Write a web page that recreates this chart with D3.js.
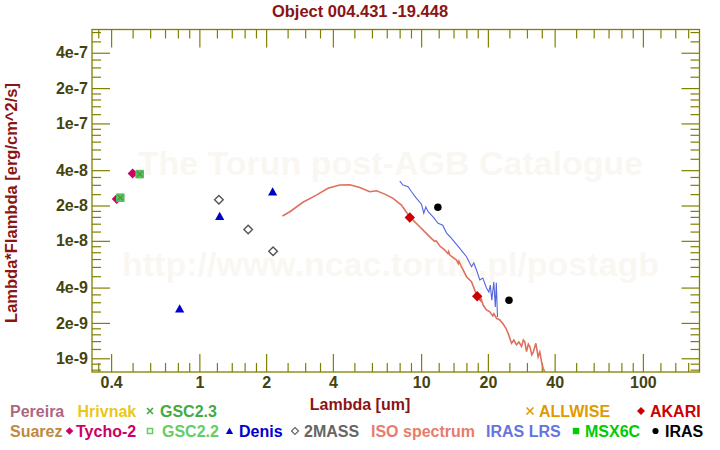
<!DOCTYPE html>
<html><head><meta charset="utf-8">
<script src="https://cdn.jsdelivr.net/npm/d3@7"></script>
<style>
body{margin:0;background:#fff}
svg{display:block}
text{font-family:"Liberation Sans",Arial,sans-serif;font-weight:bold}
</style>
</head><body>
<svg id="c" width="720" height="450"></svg>
<script>
// ---------------- DATA ----------------
const title = "Object 004.431 -19.448";
const xLabel = "Lambda [um]";
const yLabel = "Lambda*Flambda [erg/cm^2/s]";
const watermark1 = "The Torun post-AGB Catalogue";
const watermark2 = "http://www.ncac.torun.pl/postagb";

const xDomain = [0.328, 180];
const yDomain = [7.64e-10, 6.31e-7];

const xMajor = [0.4, 1, 2, 4, 10, 20, 40, 100];
const xMajorLabels = ["0.4", "1", "2", "4", "10", "20", "40", "100"];
const xMinor = [0.35, 0.5, 0.6, 0.7, 0.8, 0.9, 1.2, 1.4, 1.6, 1.8, 2.5, 3, 3.5,
  5, 6, 7, 8, 9, 12, 14, 16, 18, 25, 30, 35, 50, 60, 70, 80, 90, 120, 140, 160];

const yMajor = [1e-9, 2e-9, 4e-9, 1e-8, 2e-8, 4e-8, 1e-7, 2e-7, 4e-7];
const yMajorLabels = ["1e-9", "2e-9", "4e-9", "1e-8", "2e-8", "4e-8", "1e-7", "2e-7", "4e-7"];
const yMinor = [8e-10, 9e-10, 1.2e-9, 1.4e-9, 1.6e-9, 1.8e-9, 2.5e-9, 3e-9, 3.5e-9,
  5e-9, 6e-9, 7e-9, 8e-9, 9e-9, 1.2e-8, 1.4e-8, 1.6e-8, 1.8e-8, 2.5e-8, 3e-8, 3.5e-8,
  5e-8, 6e-8, 7e-8, 8e-8, 9e-8, 1.2e-7, 1.4e-7, 1.6e-7, 1.8e-7, 2.5e-7, 3e-7, 3.5e-7, 5e-7, 6e-7];

// photometry [lambda um, lambda*F_lambda]
const tycho2 = [[0.424, 2.27e-8], [0.50, 3.75e-8]];
const gsc22  = [[0.44, 2.33e-8], [0.538, 3.70e-8]];
const gsc23  = [[0.44, 2.33e-8], [0.538, 3.70e-8]];
const denis  = [[0.815, 2.64e-9], [1.235, 1.62e-8], [2.14, 2.62e-8]];
const twomass = [[1.225, 2.24e-8], [1.66, 1.25e-8], [2.15, 8.15e-9]];
const akari  = [[8.89, 1.58e-8], [17.9, 3.37e-9]];
const iras   = [[11.9, 1.93e-8], [24.9, 3.12e-9]];

// ISO spectrum
const isoSpec = [
 [2.37,1.63e-8],[2.56,1.77e-8],[2.93,2.13e-8],[3.37,2.45e-8],[3.80,2.80e-8],[4.30,2.99e-8],
 [4.77,3.00e-8],[5.29,2.85e-8],[5.87,2.62e-8],[6.29,2.67e-8],[6.86,2.50e-8],[7.47,2.30e-8],
 [8.15,2.02e-8],[8.89,1.60e-8],[9.86,1.32e-8],[10.94,1.08e-8],[11.5,9.9e-9],[11.7,1.0e-8],[12.14,9.03e-9],[12.79,8.35e-9],
 [13.2,7.8e-9],[13.3,8.1e-9],[13.47,7.57e-9],[14.44,6.86e-9],[14.7,6.4e-9],[14.8,6.7e-9],[15.21,6.02e-9],[16.02,4.95e-9],[16.87,4.49e-9],[17.88,3.39e-9],
 [18.5,3.1e-9],[18.6,3.25e-9],[19.03,2.84e-9],[19.71,2.58e-9],[20.40,2.49e-9],[21.05,2.29e-9],[21.3,2.4e-9],[21.88,2.19e-9],[22.63,2.12e-9],
 [23.43,1.96e-9],[24.10,1.81e-9],[24.68,1.63e-9],[25.56,1.34e-9],[26.18,1.43e-9],[26.93,1.30e-9],
 [27.58,1.38e-9],[28.37,1.26e-9],[28.90,1.43e-9],[29.35,1.38e-9],[29.87,1.14e-9],[30.44,1.32e-9],
 [30.92,1.26e-9],[31.56,1.07e-9],[32.0,1.12e-9],[32.91,1.34e-9],[33.70,1.03e-9],[34.30,1.13e-9],
 [34.91,9.36e-10],[35.50,8.22e-10],[36.14,7.64e-10]
];
// IRAS LRS spectrum
const irasLrs = [
 [8.01,3.23e-8],[8.29,2.99e-8],[8.73,2.89e-8],[9.05,2.62e-8],[9.53,2.30e-8],[10.04,2.05e-8],
 [10.28,1.72e-8],[10.50,1.94e-8],[10.75,1.77e-8],[11.32,1.60e-8],[11.93,1.41e-8],[12.52,1.36e-8],
 [13.01,1.17e-8],[13.71,1.05e-8],[14.94,8.63e-9],[16.02,7.32e-9],[16.87,6.02e-9],[17.28,6.47e-9],
 [17.77,5.64e-9],[18.39,4.64e-9],[18.97,4.82e-9],[19.71,3.97e-9],[20.2,3.67e-9],[20.51,4.20e-9],
 [20.83,3.13e-9],[21.27,4.46e-9],[21.61,2.73e-9],[21.83,4.40e-9],[22.1,2.25e-9]
];

const legendRow1 = ["Pereira", "Hrivnak", "GSC2.3", "ALLWISE", "AKARI"];
const legendRow2 = ["Suarez", "Tycho-2", "GSC2.2", "Denis", "2MASS", "ISO spectrum", "IRAS LRS", "MSX6C", "IRAS"];

// ---------------- DRAW ----------------
const W = 720, H = 450;
const L = 92, R = 699.5, T = 29.5, B = 372;
const svg = d3.select("#c");
const OLIVE = "#808000", TICKTXT = "#44440f", DARKRED = "#8b1414";

const x = d3.scaleLog().domain(xDomain).range([L, R]);
const y = d3.scaleLog().domain(yDomain).range([B, T]);

svg.append("rect").attr("width", W).attr("height", H).attr("fill", "#fff");

// watermark
svg.append("text").attr("x", 390.5).attr("y", 175).attr("text-anchor", "middle")
  .attr("font-size", 34).attr("fill", "#faf7f3").text(watermark1);
svg.append("text").attr("x", 390.5).attr("y", 276).attr("text-anchor", "middle")
  .attr("font-size", 34).attr("fill", "#faf7f3").text(watermark2);

// title
svg.append("text").attr("x", 360).attr("y", 17).attr("text-anchor", "middle")
  .attr("font-size", 16.5).attr("fill", DARKRED).text(title);

// axes
function styleAxis(g) {
  g.select(".domain").remove();
  g.selectAll(".tick line").attr("stroke", OLIVE).attr("stroke-width", 1.2);
  g.selectAll(".tick text").attr("fill", TICKTXT).attr("font-size", 16)
    .attr("font-family", "Liberation Sans, Arial, sans-serif").attr("font-weight", "bold");
}
svg.append("g").attr("transform", `translate(0,${B})`)
  .call(d3.axisBottom(x).tickValues(xMajor).tickFormat((d, i) => xMajorLabels[i])
    .tickSizeInner(-18).tickSizeOuter(0).tickPadding(5)).call(styleAxis);
svg.append("g").attr("transform", `translate(0,${B})`)
  .call(d3.axisBottom(x).tickValues(xMinor).tickFormat("").tickSizeInner(-9).tickSizeOuter(0)).call(styleAxis);
svg.append("g").attr("transform", `translate(0,${T})`)
  .call(d3.axisTop(x).tickValues(xMajor).tickFormat("").tickSizeInner(-18).tickSizeOuter(0)).call(styleAxis);
svg.append("g").attr("transform", `translate(0,${T})`)
  .call(d3.axisTop(x).tickValues(xMinor).tickFormat("").tickSizeInner(-9).tickSizeOuter(0)).call(styleAxis);
svg.append("g").attr("transform", `translate(${L},0)`)
  .call(d3.axisLeft(y).tickValues(yMajor).tickFormat((d, i) => yMajorLabels[i])
    .tickSizeInner(-18).tickSizeOuter(0).tickPadding(4)).call(styleAxis);
svg.append("g").attr("transform", `translate(${L},0)`)
  .call(d3.axisLeft(y).tickValues(yMinor).tickFormat("").tickSizeInner(-9).tickSizeOuter(0)).call(styleAxis);
svg.append("g").attr("transform", `translate(${R},0)`)
  .call(d3.axisRight(y).tickValues(yMajor).tickFormat("").tickSizeInner(-18).tickSizeOuter(0)).call(styleAxis);
svg.append("g").attr("transform", `translate(${R},0)`)
  .call(d3.axisRight(y).tickValues(yMinor).tickFormat("").tickSizeInner(-9).tickSizeOuter(0)).call(styleAxis);

svg.append("rect").attr("x", L).attr("y", T).attr("width", R - L).attr("height", B - T)
  .attr("fill", "none").attr("stroke", OLIVE).attr("stroke-width", 1.3);

// axis labels
svg.append("text").attr("transform", `translate(16.5,203) rotate(-90)`).attr("text-anchor", "middle")
  .attr("font-size", 16.5).attr("fill", DARKRED).text(yLabel);
svg.append("text").attr("x", 360).attr("y", 410).attr("text-anchor", "middle")
  .attr("font-size", 16).attr("fill", DARKRED).text(xLabel);

// clip
svg.append("clipPath").attr("id", "plotclip").append("rect")
  .attr("x", L).attr("y", T).attr("width", R - L).attr("height", B - T);
const plot = svg.append("g").attr("clip-path", "url(#plotclip)");

const line = d3.line().x(d => x(d[0])).y(d => y(d[1]));
plot.append("path").datum(isoSpec).attr("d", line).attr("fill", "none")
  .attr("stroke", "#e0705c").attr("stroke-width", 1.6);
plot.append("path").datum(irasLrs).attr("d", line).attr("fill", "none")
  .attr("stroke", "#5566dd").attr("stroke-width", 1.1);

// symbol paths
const diamond = r => `M0,${-r}L${r},0L0,${r}L${-r},0Z`;
const triangle = r => `M0,${-r}L${r},${r * 0.8}L${-r},${r * 0.8}Z`;
const square = r => `M${-r},${-r}H${r}V${r}H${-r}Z`;
const cross = r => `M${-r},${-r}L${r},${r}M${-r},${r}L${r},${-r}`;

function pts(data, path, fill, stroke, sw) {
  plot.selectAll(null).data(data).enter().append("path")
    .attr("transform", d => `translate(${x(d[0])},${y(d[1])})`)
    .attr("d", path).attr("fill", fill).attr("stroke", stroke).attr("stroke-width", sw || 1);
}
pts(tycho2, diamond(5), "#cc0066", "none");
pts(gsc22, square(3.8), "#66c066", "#55bb55", 1);
pts(gsc23, cross(2.6), "none", "#3f9f3f", 1.4);
pts(denis, triangle(4.6), "#0000cc", "none");
pts(twomass, diamond(4.3), "none", "#555555", 1.4);
pts(akari, diamond(5.2), "#cc0000", "none");
pts(iras, d3.symbol(d3.symbolCircle, 44)(), "#000", "none");

// legend
const leg = svg.append("g");
function ltext(xp, yp, txt, col) {
  leg.append("text").attr("x", xp).attr("y", yp).attr("font-size", 16).attr("fill", col).text(txt);
}
function lsym(xp, yp, path, fill, stroke, sw) {
  leg.append("path").attr("transform", `translate(${xp},${yp})`).attr("d", path)
    .attr("fill", fill).attr("stroke", stroke).attr("stroke-width", sw || 1);
}
const r1 = 416.5, r2 = 436.5;
ltext(10, r1, legendRow1[0], "#b06682");
ltext(77.5, r1, legendRow1[1], "#e8c81a");
lsym(150, r1 - 5.5, cross(3), "none", "#44aa44", 1.6);
ltext(160, r1, legendRow1[2], "#44aa44");
lsym(530, r1 - 5.5, cross(3.5), "none", "#e09a00", 1.6);
ltext(539, r1, legendRow1[3], "#e09a00");
lsym(641, r1 - 5.5, diamond(4), "#cc0000", "none");
ltext(650, r1, legendRow1[4], "#cc0000");

ltext(10, r2, legendRow2[0], "#c08840");
lsym(69.5, r2 - 5.5, diamond(3.8), "#cc0066", "none");
ltext(76, r2, legendRow2[1], "#cc0066");
lsym(150, r2 - 5.5, square(2.5), "none", "#66cc66", 1.5);
ltext(162, r2, legendRow2[2], "#66cc66");
lsym(229.5, r2 - 5.5, triangle(3.6), "#0000cc", "none");
ltext(239, r2, legendRow2[3], "#0000cc");
lsym(295, r2 - 5.5, diamond(3.5), "none", "#666666", 1.2);
ltext(304, r2, legendRow2[4], "#666666");
ltext(371, r2, legendRow2[5], "#e87c6c");
ltext(486, r2, legendRow2[6], "#6674dd");
lsym(576, r2 - 5.5, square(3.2), "#00cc00", "none");
ltext(585, r2, legendRow2[7], "#00cc00");
lsym(655.5, r2 - 5.5, d3.symbol(d3.symbolCircle, 30)(), "#000", "none");
ltext(665, r2, legendRow2[8], "#000");
</script>
</body></html>
